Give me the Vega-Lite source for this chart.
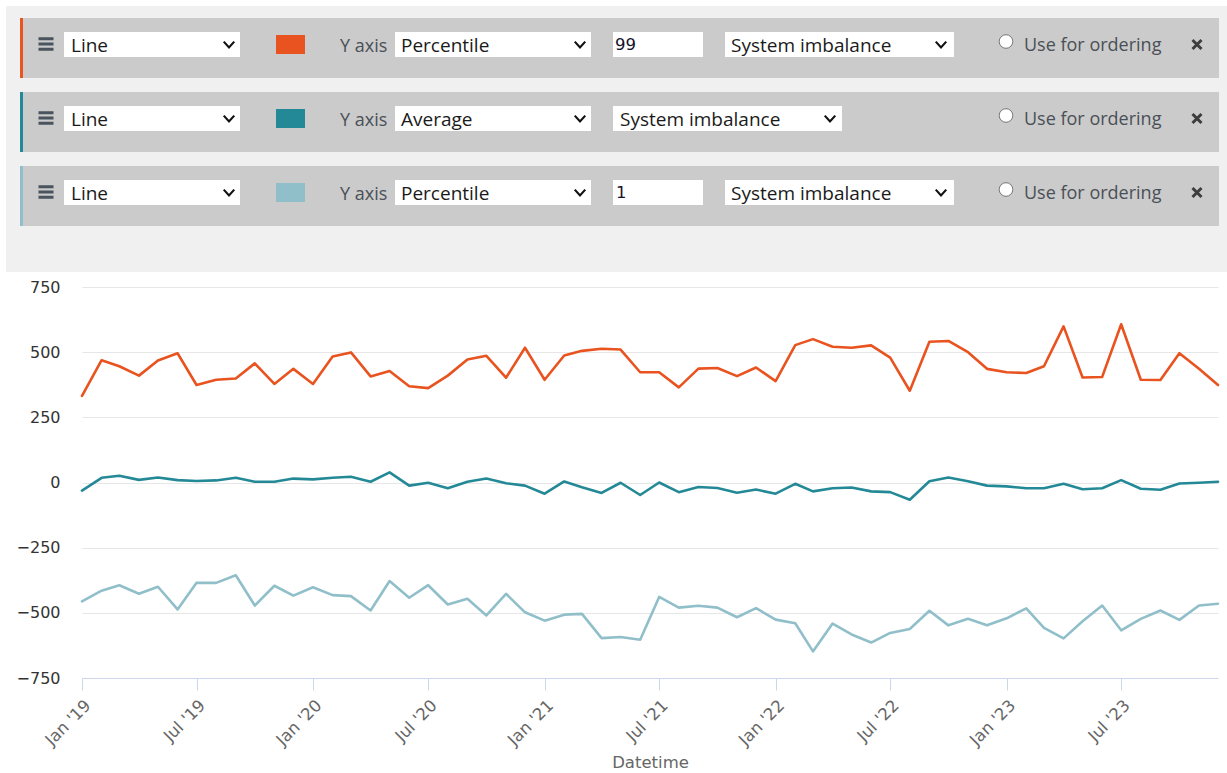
{
  "$schema": "https://vega.github.io/schema/vega-lite/v6.json",
  "autosize": {"type": "none"},
  "width": 1136,
  "height": 391,
  "padding": {"left": 82, "top": 287, "right": 9, "bottom": 95},
  "background": "#ffffff",
  "config": {"view": {"stroke": null}},
  "datasets": {
    "series": [
      {"date": "2019-01-01", "Percentile 99": 332, "Average": -31, "Percentile 1": -456},
      {"date": "2019-02-01", "Percentile 99": 469, "Average": 18, "Percentile 1": -415},
      {"date": "2019-03-01", "Percentile 99": 446, "Average": 26, "Percentile 1": -394},
      {"date": "2019-04-01", "Percentile 99": 410, "Average": 10, "Percentile 1": -427},
      {"date": "2019-05-01", "Percentile 99": 468, "Average": 19, "Percentile 1": -400},
      {"date": "2019-06-01", "Percentile 99": 496, "Average": 9, "Percentile 1": -487},
      {"date": "2019-07-01", "Percentile 99": 374, "Average": 6, "Percentile 1": -385},
      {"date": "2019-08-01", "Percentile 99": 394, "Average": 8, "Percentile 1": -385},
      {"date": "2019-09-01", "Percentile 99": 399, "Average": 18, "Percentile 1": -356},
      {"date": "2019-10-01", "Percentile 99": 457, "Average": 3, "Percentile 1": -472},
      {"date": "2019-11-01", "Percentile 99": 378, "Average": 3, "Percentile 1": -396},
      {"date": "2019-12-01", "Percentile 99": 436, "Average": 15, "Percentile 1": -434},
      {"date": "2020-01-01", "Percentile 99": 378, "Average": 12, "Percentile 1": -402},
      {"date": "2020-02-01", "Percentile 99": 483, "Average": 18, "Percentile 1": -432},
      {"date": "2020-03-01", "Percentile 99": 499, "Average": 22, "Percentile 1": -436},
      {"date": "2020-04-01", "Percentile 99": 407, "Average": 3, "Percentile 1": -491},
      {"date": "2020-05-01", "Percentile 99": 428, "Average": 39, "Percentile 1": -378},
      {"date": "2020-06-01", "Percentile 99": 369, "Average": -12, "Percentile 1": -442},
      {"date": "2020-07-01", "Percentile 99": 362, "Average": -1, "Percentile 1": -394},
      {"date": "2020-08-01", "Percentile 99": 410, "Average": -22, "Percentile 1": -468},
      {"date": "2020-09-01", "Percentile 99": 472, "Average": 3, "Percentile 1": -446},
      {"date": "2020-10-01", "Percentile 99": 486, "Average": 15, "Percentile 1": -510},
      {"date": "2020-11-01", "Percentile 99": 402, "Average": -3, "Percentile 1": -427},
      {"date": "2020-12-01", "Percentile 99": 517, "Average": -12, "Percentile 1": -498},
      {"date": "2021-01-01", "Percentile 99": 394, "Average": -43, "Percentile 1": -530},
      {"date": "2021-02-01", "Percentile 99": 487, "Average": 4, "Percentile 1": -507},
      {"date": "2021-03-01", "Percentile 99": 505, "Average": -18, "Percentile 1": -504},
      {"date": "2021-04-01", "Percentile 99": 513, "Average": -40, "Percentile 1": -597},
      {"date": "2021-05-01", "Percentile 99": 510, "Average": -1, "Percentile 1": -593},
      {"date": "2021-06-01", "Percentile 99": 423, "Average": -48, "Percentile 1": -603},
      {"date": "2021-07-01", "Percentile 99": 423, "Average": 0, "Percentile 1": -439},
      {"date": "2021-08-01", "Percentile 99": 365, "Average": -37, "Percentile 1": -480},
      {"date": "2021-09-01", "Percentile 99": 437, "Average": -17, "Percentile 1": -473},
      {"date": "2021-10-01", "Percentile 99": 439, "Average": -21, "Percentile 1": -480},
      {"date": "2021-11-01", "Percentile 99": 408, "Average": -39, "Percentile 1": -517},
      {"date": "2021-12-01", "Percentile 99": 441, "Average": -27, "Percentile 1": -482},
      {"date": "2022-01-01", "Percentile 99": 389, "Average": -43, "Percentile 1": -526},
      {"date": "2022-02-01", "Percentile 99": 527, "Average": -5, "Percentile 1": -540},
      {"date": "2022-03-01", "Percentile 99": 550, "Average": -34, "Percentile 1": -648},
      {"date": "2022-04-01", "Percentile 99": 521, "Average": -22, "Percentile 1": -541},
      {"date": "2022-05-01", "Percentile 99": 517, "Average": -19, "Percentile 1": -583},
      {"date": "2022-06-01", "Percentile 99": 526, "Average": -34, "Percentile 1": -614},
      {"date": "2022-07-01", "Percentile 99": 479, "Average": -37, "Percentile 1": -577},
      {"date": "2022-08-01", "Percentile 99": 352, "Average": -66, "Percentile 1": -562},
      {"date": "2022-09-01", "Percentile 99": 540, "Average": 5, "Percentile 1": -492},
      {"date": "2022-10-01", "Percentile 99": 543, "Average": 19, "Percentile 1": -548},
      {"date": "2022-11-01", "Percentile 99": 500, "Average": 5, "Percentile 1": -523},
      {"date": "2022-12-01", "Percentile 99": 436, "Average": -12, "Percentile 1": -548},
      {"date": "2023-01-01", "Percentile 99": 423, "Average": -15, "Percentile 1": -521},
      {"date": "2023-02-01", "Percentile 99": 420, "Average": -22, "Percentile 1": -483},
      {"date": "2023-03-01", "Percentile 99": 446, "Average": -22, "Percentile 1": -558},
      {"date": "2023-04-01", "Percentile 99": 599, "Average": -5, "Percentile 1": -598},
      {"date": "2023-05-01", "Percentile 99": 403, "Average": -26, "Percentile 1": -532},
      {"date": "2023-06-01", "Percentile 99": 405, "Average": -22, "Percentile 1": -472},
      {"date": "2023-07-01", "Percentile 99": 607, "Average": 9, "Percentile 1": -567},
      {"date": "2023-08-01", "Percentile 99": 394, "Average": -24, "Percentile 1": -523},
      {"date": "2023-09-01", "Percentile 99": 393, "Average": -28, "Percentile 1": -491},
      {"date": "2023-10-01", "Percentile 99": 496, "Average": -4, "Percentile 1": -527},
      {"date": "2023-11-01", "Percentile 99": 436, "Average": -1, "Percentile 1": -472},
      {"date": "2023-12-01", "Percentile 99": 374, "Average": 3, "Percentile 1": -465}
    ],
    "ui": [
      {"kind": "panel", "x": 6, "x2": 1227, "y": 6, "y2": 272},
      {"kind": "rowbg", "x": 20, "x2": 1219, "y": 18, "y2": 78},
      {"kind": "rowbg", "x": 20, "x2": 1219, "y": 92, "y2": 152},
      {"kind": "rowbg", "x": 20, "x2": 1219, "y": 166, "y2": 226},
      {"kind": "border", "series": "Percentile 99", "x": 20, "x2": 23, "y": 18, "y2": 78},
      {"kind": "border", "series": "Average", "x": 20, "x2": 23, "y": 92, "y2": 152},
      {"kind": "border", "series": "Percentile 1", "x": 20, "x2": 23, "y": 166, "y2": 226},
      {"kind": "box", "x": 64, "x2": 240, "y": 32, "y2": 57},
      {"kind": "box", "x": 395, "x2": 591, "y": 32, "y2": 57},
      {"kind": "box", "x": 613, "x2": 703, "y": 32, "y2": 57},
      {"kind": "box", "x": 725, "x2": 954, "y": 32, "y2": 57},
      {"kind": "box", "x": 64, "x2": 240, "y": 106, "y2": 131},
      {"kind": "box", "x": 395, "x2": 591, "y": 106, "y2": 131},
      {"kind": "box", "x": 613, "x2": 842, "y": 106, "y2": 131},
      {"kind": "box", "x": 64, "x2": 240, "y": 180, "y2": 205},
      {"kind": "box", "x": 395, "x2": 591, "y": 180, "y2": 205},
      {"kind": "box", "x": 613, "x2": 703, "y": 180, "y2": 205},
      {"kind": "box", "x": 725, "x2": 954, "y": 180, "y2": 205},
      {"kind": "swatch", "series": "Percentile 99", "x": 276, "x2": 305, "y": 35, "y2": 54},
      {"kind": "swatch", "series": "Average", "x": 276, "x2": 305, "y": 109, "y2": 128},
      {"kind": "swatch", "series": "Percentile 1", "x": 276, "x2": 305, "y": 183, "y2": 202},
      {"kind": "select", "label": "Line", "x": 71, "y": 51.5},
      {"kind": "select", "label": "Percentile", "x": 401, "y": 51.5},
      {"kind": "select", "label": "System imbalance", "x": 731, "y": 51.5},
      {"kind": "select", "label": "Line", "x": 71, "y": 125.5},
      {"kind": "select", "label": "Average", "x": 401, "y": 125.5},
      {"kind": "select", "label": "System imbalance", "x": 620, "y": 125.5},
      {"kind": "select", "label": "Line", "x": 71, "y": 199.5},
      {"kind": "select", "label": "Percentile", "x": 401, "y": 199.5},
      {"kind": "select", "label": "System imbalance", "x": 731, "y": 199.5},
      {"kind": "input", "label": "99", "x": 615, "y": 50},
      {"kind": "input", "label": "1", "x": 616, "y": 198},
      {"kind": "caption", "label": "Y axis", "x": 340, "y": 51.5},
      {"kind": "caption", "label": "Use for ordering", "x": 1024, "y": 50.5},
      {"kind": "caption", "label": "Y axis", "x": 340, "y": 125.5},
      {"kind": "caption", "label": "Use for ordering", "x": 1024, "y": 124.5},
      {"kind": "caption", "label": "Y axis", "x": 340, "y": 199.5},
      {"kind": "caption", "label": "Use for ordering", "x": 1024, "y": 198.5},
      {"kind": "chevron", "x": 229, "y": 44.5},
      {"kind": "chevron", "x": 580, "y": 44.5},
      {"kind": "chevron", "x": 941, "y": 44.5},
      {"kind": "chevron", "x": 229, "y": 118.5},
      {"kind": "chevron", "x": 580, "y": 118.5},
      {"kind": "chevron", "x": 830, "y": 118.5},
      {"kind": "chevron", "x": 229, "y": 192.5},
      {"kind": "chevron", "x": 580, "y": 192.5},
      {"kind": "chevron", "x": 941, "y": 192.5},
      {"kind": "radio", "x": 1006, "y": 41.5},
      {"kind": "radio", "x": 1006, "y": 115.5},
      {"kind": "radio", "x": 1006, "y": 189.5},
      {"kind": "menu", "x": 46, "y": 44},
      {"kind": "menu", "x": 46, "y": 118},
      {"kind": "menu", "x": 46, "y": 192},
      {"kind": "close", "x": 1197, "y": 44.5},
      {"kind": "close", "x": 1197, "y": 118.5},
      {"kind": "close", "x": 1197, "y": 192.5}
    ]
  },
  "layer": [
    {
      "data": {"name": "ui"},
      "layer": [
        {
          "transform": [{"filter": "datum.kind === 'panel'"}],
          "mark": {"type": "rect", "color": "#f0f0f0"},
          "encoding": {
            "x": {"field": "x", "type": "quantitative", "scale": {"domain": [82, 1218], "nice": false, "zero": false}, "axis": null},
            "x2": {"field": "x2"},
            "y": {"field": "y", "type": "quantitative", "scale": {"domain": [287, 678], "reverse": true, "nice": false, "zero": false}, "axis": null},
            "y2": {"field": "y2"}
          }
        },
        {
          "transform": [{"filter": "datum.kind === 'rowbg'"}],
          "mark": {"type": "rect", "color": "#cbcbcb"},
          "encoding": {
            "x": {"field": "x", "type": "quantitative", "scale": {"domain": [82, 1218], "nice": false, "zero": false}, "axis": null},
            "x2": {"field": "x2"},
            "y": {"field": "y", "type": "quantitative", "scale": {"domain": [287, 678], "reverse": true, "nice": false, "zero": false}, "axis": null},
            "y2": {"field": "y2"}
          }
        },
        {
          "transform": [{"filter": "datum.kind === 'border' || datum.kind === 'swatch'"}],
          "mark": {"type": "rect"},
          "encoding": {
            "x": {"field": "x", "type": "quantitative", "scale": {"domain": [82, 1218], "nice": false, "zero": false}, "axis": null},
            "x2": {"field": "x2"},
            "y": {"field": "y", "type": "quantitative", "scale": {"domain": [287, 678], "reverse": true, "nice": false, "zero": false}, "axis": null},
            "y2": {"field": "y2"},
            "color": {"field": "series", "type": "nominal", "scale": {"domain": ["Percentile 99", "Average", "Percentile 1"], "range": ["#e8531f", "#248997", "#90bfca"]}, "legend": null}
          }
        },
        {
          "transform": [{"filter": "datum.kind === 'box'"}],
          "mark": {"type": "rect", "color": "#ffffff"},
          "encoding": {
            "x": {"field": "x", "type": "quantitative", "scale": {"domain": [82, 1218], "nice": false, "zero": false}, "axis": null},
            "x2": {"field": "x2"},
            "y": {"field": "y", "type": "quantitative", "scale": {"domain": [287, 678], "reverse": true, "nice": false, "zero": false}, "axis": null},
            "y2": {"field": "y2"}
          }
        },
        {
          "transform": [{"filter": "datum.kind === 'select'"}],
          "mark": {"type": "text", "align": "left", "baseline": "alphabetic", "font": "Open Sans", "fontSize": 19, "color": "#1a1a1a"},
          "encoding": {
            "x": {"field": "x", "type": "quantitative", "scale": {"domain": [82, 1218], "nice": false, "zero": false}, "axis": null},
            "y": {"field": "y", "type": "quantitative", "scale": {"domain": [287, 678], "reverse": true, "nice": false, "zero": false}, "axis": null},
            "text": {"field": "label"}
          }
        },
        {
          "transform": [{"filter": "datum.kind === 'input'"}],
          "mark": {"type": "text", "align": "left", "baseline": "alphabetic", "font": "DejaVu Sans", "fontSize": 16.5, "color": "#14142b"},
          "encoding": {
            "x": {"field": "x", "type": "quantitative", "scale": {"domain": [82, 1218], "nice": false, "zero": false}, "axis": null},
            "y": {"field": "y", "type": "quantitative", "scale": {"domain": [287, 678], "reverse": true, "nice": false, "zero": false}, "axis": null},
            "text": {"field": "label"}
          }
        },
        {
          "transform": [{"filter": "datum.kind === 'caption'"}],
          "mark": {"type": "text", "align": "left", "baseline": "alphabetic", "font": "Open Sans", "fontSize": 18, "color": "#4a5057"},
          "encoding": {
            "x": {"field": "x", "type": "quantitative", "scale": {"domain": [82, 1218], "nice": false, "zero": false}, "axis": null},
            "y": {"field": "y", "type": "quantitative", "scale": {"domain": [287, 678], "reverse": true, "nice": false, "zero": false}, "axis": null},
            "text": {"field": "label"}
          }
        },
        {
          "transform": [{"filter": "datum.kind === 'chevron'"}],
          "mark": {"type": "point", "shape": "M-1,-0.55L0,0.55L1,-0.55", "filled": false, "color": "#111111", "strokeWidth": 2.2, "size": 110, "opacity": 1},
          "encoding": {
            "x": {"field": "x", "type": "quantitative", "scale": {"domain": [82, 1218], "nice": false, "zero": false}, "axis": null},
            "y": {"field": "y", "type": "quantitative", "scale": {"domain": [287, 678], "reverse": true, "nice": false, "zero": false}, "axis": null}
          }
        },
        {
          "transform": [{"filter": "datum.kind === 'radio'"}],
          "mark": {"type": "point", "shape": "circle", "filled": true, "fill": "#ffffff", "stroke": "#767676", "strokeWidth": 1, "size": 185, "opacity": 1},
          "encoding": {
            "x": {"field": "x", "type": "quantitative", "scale": {"domain": [82, 1218], "nice": false, "zero": false}, "axis": null},
            "y": {"field": "y", "type": "quantitative", "scale": {"domain": [287, 678], "reverse": true, "nice": false, "zero": false}, "axis": null}
          }
        },
        {
          "transform": [{"filter": "datum.kind === 'menu'"}],
          "mark": {"type": "point", "shape": "M-1,-0.9H1V-0.5H-1Z M-1,-0.2H1V0.2H-1Z M-1,0.5H1V0.9H-1Z", "filled": true, "color": "#4a545e", "size": 225, "opacity": 1},
          "encoding": {
            "x": {"field": "x", "type": "quantitative", "scale": {"domain": [82, 1218], "nice": false, "zero": false}, "axis": null},
            "y": {"field": "y", "type": "quantitative", "scale": {"domain": [287, 678], "reverse": true, "nice": false, "zero": false}, "axis": null}
          }
        },
        {
          "transform": [{"filter": "datum.kind === 'close'"}],
          "mark": {"type": "point", "shape": "M-1,-1L1,1M-1,1L1,-1", "filled": false, "color": "#3d3d3d", "strokeWidth": 3, "size": 81, "opacity": 1},
          "encoding": {
            "x": {"field": "x", "type": "quantitative", "scale": {"domain": [82, 1218], "nice": false, "zero": false}, "axis": null},
            "y": {"field": "y", "type": "quantitative", "scale": {"domain": [287, 678], "reverse": true, "nice": false, "zero": false}, "axis": null}
          }
        }
      ]
    },
    {
      "data": {"name": "series"},
      "transform": [{"fold": ["Percentile 99", "Average", "Percentile 1"], "as": ["series", "value"]}],
      "mark": {"type": "line", "strokeWidth": 2.6, "strokeJoin": "round", "strokeCap": "round"},
      "encoding": {
        "x": {
          "field": "date",
          "type": "temporal",
          "scale": {"type": "utc", "domain": [{"year": 2019, "month": 1, "date": 1, "utc": true}, {"year": 2023, "month": 12, "date": 1, "utc": true}], "nice": false},
          "axis": {
            "title": "Datetime",
            "tickCount": {"interval": "month", "step": 6},
            "labelExpr": "utcFormat(datum.value, \"%b '%y\")",
            "labelAngle": -45,
            "labelFont": "DejaVu Sans",
            "labelFontSize": 16.5,
            "labelColor": "#666666",
            "labelPadding": 7,
            "labelFlush": false,
            "labelOverlap": false,
            "labelBound": false,
            "domainColor": "#ccd6eb",
            "tickColor": "#ccd6eb",
            "tickSize": 12,
            "grid": false,
            "titleFont": "DejaVu Sans",
            "titleFontSize": 16.5,
            "titleFontWeight": "normal",
            "titleColor": "#666666",
            "titlePadding": 6
          }
        },
        "y": {
          "field": "value",
          "type": "quantitative",
          "scale": {"domain": [-750, 750], "nice": false},
          "axis": {
            "title": null,
            "values": [-750, -500, -250, 0, 250, 500, 750],
            "grid": true,
            "gridColor": "#e6e6e6",
            "gridWidth": 1,
            "domain": false,
            "ticks": false,
            "tickSize": 0,
            "labelFont": "DejaVu Sans",
            "labelFontSize": 16,
            "labelColor": "#333333",
            "labelPadding": 22
          }
        },
        "color": {"field": "series", "type": "nominal", "scale": {"domain": ["Percentile 99", "Average", "Percentile 1"], "range": ["#e8531f", "#248997", "#90bfca"]}, "legend": null}
      }
    }
  ],
  "resolve": {"scale": {"x": "independent", "y": "independent"}}
}
